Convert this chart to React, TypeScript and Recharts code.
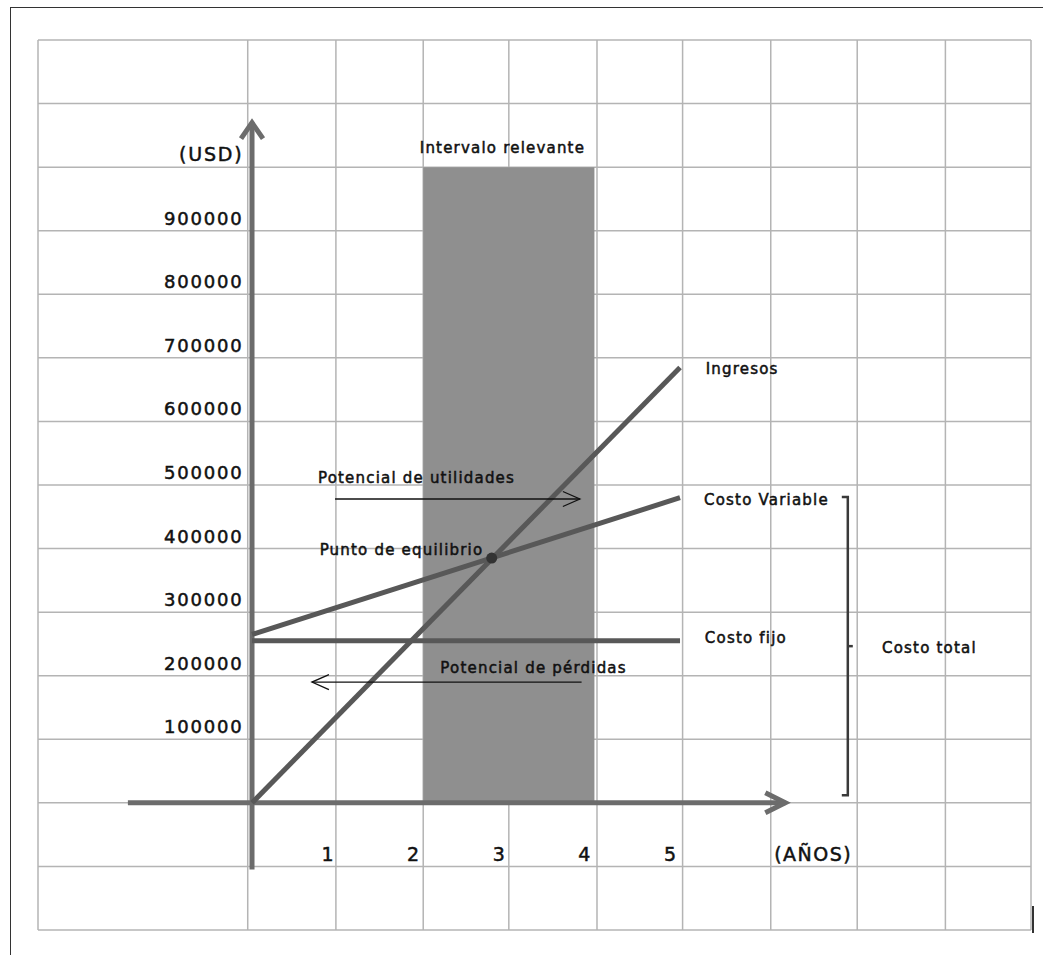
import {
  ComposedChart,
  Line,
  XAxis,
  YAxis,
  CartesianGrid,
  ReferenceArea,
  ReferenceLine,
  ReferenceDot,
} from 'recharts'

// break-even chart: years vs USD
const years = [0, 5]
const ingresos = [0, 685000]
const costoVariable = [265000, 480000]
const costoFijo = [255000, 255000]

const yTickValues = [100000, 200000, 300000, 400000, 500000, 600000, 700000, 800000, 900000]
const yTickLabels = ['100000', '200000', '300000', '400000', '500000', '600000', '700000', '800000', '900000']
const xTickValues = [1, 2, 3, 4, 5]
const xTickLabels = ['1', '2', '3', '4', '5']

const relevantFrom = 2
const relevantTo = 4
const relevantTop = 1000000
const breakEvenYear = 2.8
const breakEvenUsd = 385000

// spreadsheet cells behind the drawing
const gridRows = [
  -200000, -100000, 0, 100000, 200000, 300000, 400000, 500000, 600000, 700000, 800000, 900000,
  1000000, 1100000, 1200000,
]
const gridCols = [-2.5, -0.05, 0.98, 2, 3, 4.03, 5.03, 6.06, 7.07, 8.1, 9.1]

const data = years.map((year, i) => ({
  year,
  ingresos: ingresos[i],
  costoVariable: costoVariable[i],
  costoFijo: costoFijo[i],
}))

const FONT = '"DejaVu Sans", sans-serif'
const INK = '#111'

const note =
  (text: string, anchor: 'start' | 'end' | 'middle' = 'start', size = 15, spacing = 1.2, dx = 0, dy = 0) =>
  (p: any) => (
    <text
      x={p.cx + dx}
      y={p.cy + dy}
      textAnchor={anchor}
      fontSize={size}
      letterSpacing={spacing}
      fontFamily={FONT}
      fill={INK}
      stroke={INK}
      strokeWidth={0.5}
    >
      {text}
    </text>
  )

const arrow =
  (color: string, width: number, head: number, spread: number) =>
  (p: any) => {
    const { x1, y1, x2, y2 } = p
    const len = Math.hypot(x2 - x1, y2 - y1) || 1
    const ux = (x2 - x1) / len
    const uy = (y2 - y1) / len
    const bx = x2 - ux * head
    const by = y2 - uy * head
    return (
      <g>
        <line x1={x1} y1={y1} x2={x2} y2={y2} stroke={color} strokeWidth={width} />
        <polyline
          points={`${bx - uy * spread},${by + ux * spread} ${x2},${y2} ${bx + uy * spread},${by - ux * spread}`}
          fill="none"
          stroke={color}
          strokeWidth={width}
          strokeLinejoin="miter"
        />
      </g>
    )
  }

const bracket = (p: any) => {
  const { x1, y1, x2, y2 } = p
  const top = Math.min(y1, y2)
  const bottom = Math.max(y1, y2)
  const mid = (top + bottom) / 2
  return (
    <g stroke="#3a3a3a" strokeWidth={2.5} fill="none">
      <polyline points={`${x1 - 6},${top} ${x1},${top} ${x2},${bottom} ${x2 - 6},${bottom}`} />
      <line x1={x1} y1={mid} x2={x1 + 5} y2={mid} />
    </g>
  )
}

export default function App() {
  return (
    <div style={{ position: 'absolute', left: 0, top: 0, width: 1043, height: 955, background: '#fff' }}>
      <div
        style={{
          position: 'absolute',
          left: 10,
          top: 7,
          width: 1033,
          height: 948,
          borderTop: '1.5px solid #333',
          borderLeft: '1.5px solid #333',
          boxSizing: 'border-box',
        }}
      />
      <div style={{ position: 'absolute', left: 1032, top: 906, width: 2, height: 27, background: '#333' }} />
      <div style={{ position: 'absolute', left: 0, top: 0 }}>
        <ComposedChart width={1043} height={955} data={data} margin={{ top: 40, right: 12, bottom: 25, left: 38 }}>
          <XAxis type="number" dataKey="year" domain={[-2.5, 9.1]} allowDataOverflow hide />
          <YAxis type="number" domain={[-200000, 1200000]} allowDataOverflow hide />
          <CartesianGrid
            horizontalValues={gridRows}
            verticalValues={gridCols}
            stroke="#b4b4b4"
            strokeWidth={1.5}
          />
          <ReferenceArea
            x1={relevantFrom}
            x2={relevantTo}
            y1={0}
            y2={relevantTop}
            fill="#8f8f8f"
            fillOpacity={1}
            stroke="none"
          />
          {/* axes */}
          <ReferenceLine
            segment={[
              { x: 0, y: -105000 },
              { x: 0, y: 1070000 },
            ]}
            shape={arrow('#6c6c6c', 5, 16, 11)}
          />
          <ReferenceLine
            segment={[
              { x: -1.45, y: 0 },
              { x: 6.23, y: 0 },
            ]}
            shape={arrow('#6c6c6c', 5, 20, 10)}
          />
          <Line dataKey="costoFijo" type="linear" stroke="#585858" strokeWidth={5} dot={false} isAnimationActive={false} />
          <Line dataKey="costoVariable" type="linear" stroke="#585858" strokeWidth={5} dot={false} isAnimationActive={false} />
          <Line dataKey="ingresos" type="linear" stroke="#585858" strokeWidth={5} dot={false} isAnimationActive={false} />
          <ReferenceDot x={breakEvenYear} y={breakEvenUsd} r={5.5} fill="#333" stroke="none" />
          {/* profit / loss arrows */}
          <ReferenceLine
            segment={[
              { x: 0.97, y: 478000 },
              { x: 3.83, y: 478000 },
            ]}
            shape={arrow(INK, 1.3, 17, 7.5)}
          />
          <ReferenceLine
            segment={[
              { x: 3.85, y: 190000 },
              { x: 0.7, y: 190000 },
            ]}
            shape={arrow(INK, 1.3, 17, 7.5)}
          />
          <ReferenceLine
            segment={[
              { x: 6.96, y: 481000 },
              { x: 6.96, y: 12000 },
            ]}
            shape={bracket}
          />
          {/* tick labels */}
          {yTickValues.map((v, i) => (
            <ReferenceDot key={`y${v}`} x={-0.1} y={v} r={0} shape={note(yTickLabels[i], 'end', 18, 1.8, 0, -6)} />
          ))}
          <ReferenceDot x={-0.1} y={1000000} r={0} shape={note('(USD)', 'end', 19, 1.8, 0, -6)} />
          {xTickValues.map((v, i) => (
            <ReferenceDot key={`x${v}`} x={v} y={-100000} r={0} shape={note(xTickLabels[i], 'end', 19, 0, -4, -5)} />
          ))}
          <ReferenceDot x={6.1} y={-100000} r={0} shape={note('(AÑOS)', 'start', 19, 1.5, 0, -5)} />
          {/* annotations */}
          <ReferenceDot x={1.96} y={1022000} r={0} shape={note('Intervalo relevante')} />
          <ReferenceDot x={5.3} y={675000} r={0} shape={note('Ingresos')} />
          <ReferenceDot x={5.28} y={469000} r={0} shape={note('Costo Variable')} />
          <ReferenceDot x={5.29} y={252000} r={0} shape={note('Costo fijo')} />
          <ReferenceDot x={7.36} y={236000} r={0} shape={note('Costo total')} />
          <ReferenceDot x={0.77} y={503000} r={0} shape={note('Potencial de utilidades')} />
          <ReferenceDot x={0.79} y={390000} r={0} shape={note('Punto de equilibrio')} />
          <ReferenceDot x={2.2} y={204500} r={0} shape={note('Potencial de pérdidas')} />
        </ComposedChart>
      </div>
    </div>
  )
}
